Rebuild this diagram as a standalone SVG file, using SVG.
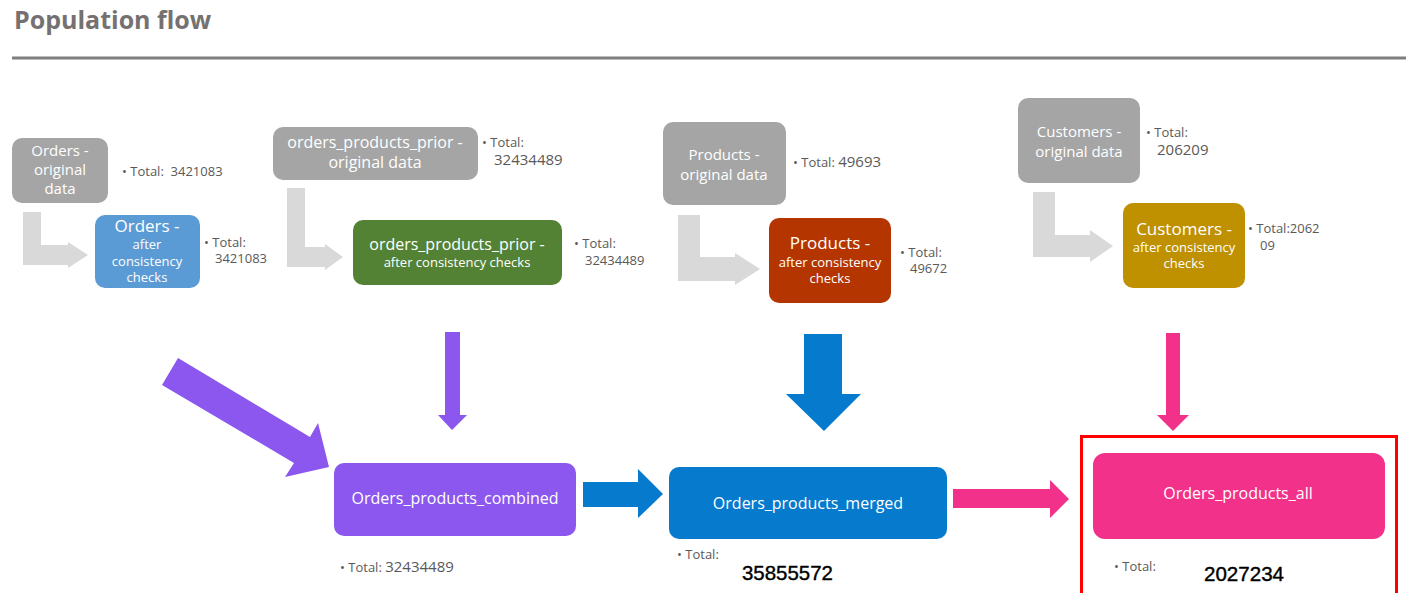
<svg xmlns="http://www.w3.org/2000/svg" width="1406" height="593" viewBox="0 0 1406 593">
<style>
.bt{font-family:"Open Sans","Liberation Sans",sans-serif;fill:#ffffff;text-anchor:middle}
.tt{font-family:"Open Sans","Liberation Sans",sans-serif;fill:#595959;font-size:13px}
.big{font-family:"Liberation Sans",Arial,sans-serif;fill:#000000;font-size:21px;stroke:#000000;stroke-width:0.4}
.la{fill:#D9D9D9}
</style>
<rect width="1406" height="593" fill="#ffffff"/>
<text x="14" y="29" font-family="'Open Sans','Liberation Sans',sans-serif" font-weight="bold" font-size="25" fill="#767171">Population flow</text>
<line x1="12" y1="58" x2="1406" y2="58" stroke="#7F7F7F" stroke-width="3"/>

<g id="connectors">
<polygon class="la" points="23,212 41,212 41,245 68,245 68,242 88,255 68,268 68,265 23,265"/>
<polygon class="la" points="287,188 305,188 305,247 325,247 325,244 343,257 325,270 325,267 287,267"/>
<polygon class="la" points="678,215 700,215 700,257 735,257 735,253 760,269 735,285 735,281 678,281"/>
<polygon class="la" points="1033,192 1055,192 1055,235 1090,235 1090,230 1113,246 1090,262 1090,257 1033,257"/>
<polygon fill="#8B57EE" points="178,358 310,437 318,423 329,467 285,477 294,463 162,385"/>
<polygon fill="#8B57EE" points="445,332 460,332 460,415 467,415 452,430 438,415 445,415"/>
<polygon fill="#067ACD" points="804,334 842,334 842,394 861,394 824,431 786,394 804,394"/>
<polygon fill="#F2318B" points="1166,333 1180,333 1180,415 1189,415 1173,431 1157,415 1166,415"/>
<polygon fill="#067ACD" points="583,482 638,482 638,469 663,494 638,518 638,507 583,507"/>
<polygon fill="#F2318B" points="953,489 1050,489 1050,480 1069,499 1050,518 1050,508 953,508"/>
</g>

<g id="orders-original">
<rect x="12" y="138" width="96" height="65" rx="10" fill="#A5A5A5"/>
<text class="bt" font-size="15"><tspan x="60" y="156">Orders -</tspan><tspan x="60" y="175">original</tspan><tspan x="60" y="194">data</tspan></text>
<text class="tt" x="122" y="176" xml:space="preserve">• Total:  3421083</text>
</g>
<g id="orders-after">
<rect x="95" y="215" width="105" height="73" rx="10" fill="#5B9BD5"/>
<text class="bt"><tspan x="147" y="232" font-size="17">Orders -</tspan><tspan x="147" y="249" font-size="13">after</tspan><tspan x="147" y="266" font-size="13">consistency</tspan><tspan x="147" y="282" font-size="13">checks</tspan></text>
<text class="tt"><tspan x="204" y="247">• Total:</tspan><tspan x="215" y="263">3421083</tspan></text>
</g>
<g id="prior-original">
<rect x="273" y="127" width="205" height="53" rx="10" fill="#A5A5A5"/>
<text class="bt" font-size="16"><tspan x="375" y="148">orders_products_prior -</tspan><tspan x="375" y="168">original data</tspan></text>
<text class="tt"><tspan x="482" y="147">• Total:</tspan><tspan x="494" y="165" font-size="15">32434489</tspan></text>
</g>
<g id="prior-after">
<rect x="353" y="220" width="209" height="65" rx="10" fill="#548235"/>
<text class="bt"><tspan x="457" y="250" font-size="16">orders_products_prior -</tspan><tspan x="457" y="267" font-size="13">after consistency checks</tspan></text>
<text class="tt"><tspan x="574" y="248">• Total:</tspan><tspan x="585" y="265">32434489</tspan></text>
</g>
<g id="products-original">
<rect x="663" y="122" width="123" height="83" rx="10" fill="#A5A5A5"/>
<text class="bt" font-size="15"><tspan x="724" y="160">Products -</tspan><tspan x="724" y="180">original data</tspan></text>
<text class="tt" x="793" y="167">• Total: <tspan font-size="15">49693</tspan></text>
</g>
<g id="products-after">
<rect x="769" y="218" width="122" height="85" rx="10" fill="#B43500"/>
<text class="bt"><tspan x="830" y="249" font-size="17">Products -</tspan><tspan x="830" y="267" font-size="13">after consistency</tspan><tspan x="830" y="283" font-size="13">checks</tspan></text>
<text class="tt"><tspan x="900" y="257">• Total:</tspan><tspan x="910" y="273">49672</tspan></text>
</g>
<g id="customers-original">
<rect x="1018" y="98" width="122" height="85" rx="10" fill="#A5A5A5"/>
<text class="bt" font-size="15"><tspan x="1079" y="137">Customers -</tspan><tspan x="1079" y="157">original data</tspan></text>
<text class="tt"><tspan x="1146" y="137">• Total:</tspan><tspan x="1157" y="155" font-size="15">206209</tspan></text>
</g>
<g id="customers-after">
<rect x="1123" y="203" width="122" height="85" rx="10" fill="#BF9000"/>
<text class="bt"><tspan x="1184" y="235" font-size="17">Customers -</tspan><tspan x="1184" y="252" font-size="13">after consistency</tspan><tspan x="1184" y="268" font-size="13">checks</tspan></text>
<text class="tt"><tspan x="1248" y="233">• Total:2062</tspan><tspan x="1260" y="250">09</tspan></text>
</g>
<g id="combined">
<rect x="334" y="463" width="242" height="73" rx="10" fill="#8B57EE"/>
<text class="bt" x="455" y="504" font-size="16">Orders_products_combined</text>
<text class="tt" x="340" y="572">• Total: <tspan font-size="15">32434489</tspan></text>
</g>
<g id="merged">
<rect x="669" y="467" width="278" height="72" rx="10" fill="#067ACD"/>
<text class="bt" x="808" y="509" font-size="16">Orders_products_merged</text>
<text class="tt" x="677" y="559">• Total:</text>
<text class="big" x="742" y="580" textLength="91" lengthAdjust="spacingAndGlyphs">35855572</text>
</g>
<g id="all">
<rect x="1081.5" y="436.5" width="315" height="170" fill="none" stroke="#FF0000" stroke-width="3"/>
<rect x="1093" y="453" width="292" height="86" rx="12" fill="#F2318B"/>
<text class="bt" x="1238" y="499" font-size="16">Orders_products_all</text>
<text class="tt" x="1114" y="571">• Total:</text>
<text class="big" x="1204" y="581" textLength="80" lengthAdjust="spacingAndGlyphs">2027234</text>
</g>
</svg>
